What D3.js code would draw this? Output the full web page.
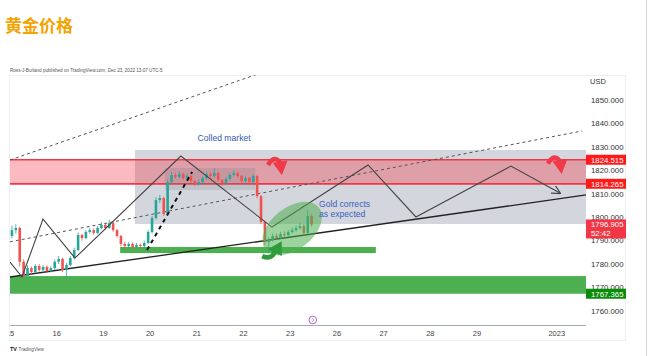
<!DOCTYPE html>
<html><head><meta charset="utf-8">
<script src="https://cdn.jsdelivr.net/npm/d3@7"></script>
<style>body{margin:0;background:#fff;overflow:hidden} svg{display:block}</style>
</head><body>
<svg id="c" width="649" height="356"></svg>
<script>
// ---------- DATA ----------
const firstOpen = 1792;
const closes = [
 1794.5,1795.4,1781,1775,1778.3,1776.6,1779.2,1777.5,1778.8,1777,
 1778.3,1781,1782.2,1777.5,1779.6,1782.6,1786,1792.4,1791.1,1793.7,
 1794.5,1793.3,1795.4,1796.7,1795.4,1797.5,1794.5,1792,1788.6,1787.7,
 1788.6,1787.3,1788.1,1787.7,1789,1793.7,1799.7,1807.3,1808.2,1801.4,
 1815,1818,1817.2,1818.4,1816.7,1817.6,1815.4,1814.2,1815,1816.7,
 1818.4,1817.6,1818.9,1815.9,1814.6,1816.3,1818,1818.9,1817.6,1815.4,
 1816.7,1815,1817.6,1809,1798,1789.4,1790.3,1792,1791.2,1792.8,
 1792.4,1793.7,1794.5,1795.4,1796.2,1793.3,1800.5,1796.9];
const highs = [
 1796.5,1797,1796,1782,1779.5,1779,1780,1780,1779.5,1779.5,
 1779,1782,1783.5,1782.8,1780.5,1783.5,1787,1793.5,1793,1794.5,
 1795.5,1795.2,1796.3,1797.8,1797.2,1799,1798,1795,1792.5,1789.5,
 1789.4,1789.3,1789,1788.8,1790,1794.5,1800.5,1808.5,1809.5,1808.8,
 1816,1819.5,1819,1819.6,1819.2,1818.6,1818.2,1816,1816.2,1817.5,
 1819.5,1819.2,1821,1819.5,1816.5,1817.2,1819,1820,1819.5,1818,
 1817.5,1817.3,1818.5,1818.3,1809.5,1798.5,1791.5,1793,1793,1793.8,
 1794,1794.6,1795.6,1796.5,1797.8,1797,1803,1801.5];
const lows = [
 1791,1793,1779,1774,1774.5,1775.5,1776,1776.8,1776.5,1776.3,
 1776.5,1777.5,1780,1776.5,1774,1779,1782,1785.5,1790,1790.5,
 1793,1792.5,1792.8,1794.8,1794.6,1795,1793.8,1791.3,1787.5,1786.5,
 1786.8,1786.5,1786.7,1786.6,1786.5,1788.5,1793,1799,1806,1800.5,
 1801,1814.5,1816.5,1816.5,1816,1815.8,1814.6,1813.2,1813.5,1814.3,
 1816,1816.8,1817,1815,1813.5,1814,1815.6,1817.3,1816.8,1814.5,
 1814.7,1814.2,1814.5,1808,1797,1788,1784.5,1789.5,1790.3,1790.8,
 1791.6,1791.8,1793,1793.8,1794.7,1792.5,1793,1796];

const dayTickIdx    = [0,12,24,36,48,60,72,84,96,108,120,140.5];
const dayTickLabels = ["15","16","19","20","21","22","23","26","27","28","29","2023"];
const priceTicks = [1760,1770,1780,1790,1800,1810,1820,1830,1840,1850];

// zones: [idxStart, idxEnd, priceLow, priceHigh]
const resistanceZone = [0, 148, 1814.265, 1824.515];
const rangeZone      = [32.1, 148, 1797.1, 1828.7];
const consolidation  = [39.8, 63, 1811.6, 1821];
const supportSmall   = [28.3, 94, 1784.7, 1787.3];
const supportBig     = [0, 148, 1767.365, 1774.9];

// lines: [idx, price] pairs
const upperDashed = [[0,1824.4],[75,1867.6]];
const lowerDashed = [[0,1789.5],[147,1836.8]];
const trendLine   = [[0,1774.5],[148,1809.5]];
const zigzag = [[0,1780.9],[3.08,1774.5],[8.48,1799.2],[16.7,1782.6],[43.9,1826.1],
                [67.3,1795.8],[92.0,1822.3],[104.3,1800.1],[128.7,1821.8],[141.3,1810.3]];
const boldDashed = [[35.2,1786.0],[46.8,1819.3]];
const ellipseC = [72.5, 1795.2];

const badgePrices = [1824.515, 1814.265, 1796.905, 1767.365];
const badgeLabels = ["1824.515","1814.265","1796.905","1767.365"];
const badgeSub    = ["","","52:42",""];

// ---------- DRAW ----------
const svg = d3.select("#c");
const L=10, R=586, T=75, B=325;
const x = d3.scaleLinear().domain([0,148]).range([L,R]);
const y = d3.scaleLinear().domain([1760,1850]).range([311,100]);

svg.append("rect").attr("width",649).attr("height",356).attr("fill","#fff");
svg.append("line").attr("x1",646.5).attr("x2",646.5).attr("y1",0).attr("y2",356).attr("stroke","#d6d6d6");

// Title
svg.append("text").attr("x",5).attr("y",32).text("黄金价格")
  .attr("font-family","'Noto Sans CJK SC'").attr("font-weight","bold")
  .attr("font-size",17).attr("fill","#f5a300");
svg.append("text").attr("x",10).attr("y",72)
  .text("Ross-J-Burland published on TradingView.com, Dec 23, 2022 13:07 UTC-5")
  .attr("font-family","Liberation Sans, Arial").attr("font-size",4.6).attr("fill","#555");

// frame
svg.append("rect").attr("x",9.5).attr("y",75.5).attr("width",616).attr("height",265)
  .attr("fill","none").attr("stroke","#eceef2");

const defs = svg.append("defs");
defs.append("clipPath").attr("id","plot").append("rect")
  .attr("x",L).attr("y",T).attr("width",R-L).attr("height",B-T);
const g = svg.append("g").attr("clip-path","url(#plot)");

function zone(z, fill){
  return g.append("rect").attr("x",x(z[0])).attr("width",x(z[1])-x(z[0]))
    .attr("y",y(z[3])).attr("height",y(z[2])-y(z[3])).attr("fill",fill);
}
zone(rangeZone,"rgba(200,203,212,0.78)");
zone(resistanceZone,"rgba(242,54,69,0.34)");
[resistanceZone[2],resistanceZone[3]].forEach(p=>{
  g.append("line").attr("x1",x(resistanceZone[0])).attr("x2",x(resistanceZone[1]))
    .attr("y1",y(p)).attr("y2",y(p)).attr("stroke","#f23645").attr("stroke-width",1.7);
});
zone(consolidation,"rgba(120,123,134,0.22)");
zone(supportSmall,"#4caf50");
zone(supportBig,"#4caf50");

const line = d3.line().x(d=>x(d[0])).y(d=>y(d[1]));
g.append("path").attr("d",line(upperDashed)).attr("fill","none").attr("stroke","#555")
  .attr("stroke-width",1).attr("stroke-dasharray","3,3");
g.append("path").attr("d",line(lowerDashed)).attr("fill","none").attr("stroke","#555")
  .attr("stroke-width",1).attr("stroke-dasharray","3,3");
g.append("path").attr("d",line(trendLine)).attr("fill","none").attr("stroke","#222")
  .attr("stroke-width",1.3);

// candles
const bw = 2.6;
closes.forEach((c,i)=>{
  const o = i===0 ? firstOpen : closes[i-1];
  const col = c>=o ? "#26a69a" : "#ef5350";
  const cx = x(i+0.5);
  g.append("line").attr("x1",cx).attr("x2",cx).attr("y1",y(highs[i])).attr("y2",y(lows[i]))
    .attr("stroke",col).attr("stroke-width",0.8);
  const top = y(Math.max(o,c)), h = Math.max(1, Math.abs(y(o)-y(c)));
  g.append("rect").attr("x",cx-bw/2).attr("width",bw).attr("y",top).attr("height",h).attr("fill",col);
});

g.append("path").attr("d",line(boldDashed)).attr("fill","none").attr("stroke","#111")
  .attr("stroke-width",2).attr("stroke-dasharray","4,4");

// zigzag with arrow
defs.append("marker").attr("id","ah").attr("viewBox","0 0 10 10").attr("refX",9).attr("refY",5)
  .attr("markerWidth",9).attr("markerHeight",9).attr("orient","auto").attr("markerUnits","userSpaceOnUse")
  .append("path").attr("d","M0,0 L10,5 L0,10").attr("fill","none").attr("stroke","#444").attr("stroke-width",1.3);
g.append("path").attr("d",line(zigzag)).attr("fill","none").attr("stroke","#444")
  .attr("stroke-width",1.1).attr("marker-end","url(#ah)");

// ellipse
const ex = x(ellipseC[0]), ey = y(ellipseC[1]);
g.append("ellipse").attr("cx",ex).attr("cy",ey).attr("rx",34).attr("ry",21)
  .attr("transform",`rotate(-38,${ex},${ey})`).attr("fill","rgba(76,175,80,0.55)");

// curved arrows
function redArrow(px,py){
  const a = g.append("g").attr("transform",`translate(${px},${py}) scale(1.15)`);
  a.append("path").attr("d","M0,8 Q6,-2 11,7").attr("fill","none").attr("stroke","#ef3a4a").attr("stroke-width",4);
  a.append("path").attr("d","M4,6 L17,4 L12,17 Z").attr("fill","#ef3a4a");
}
redArrow(x(66.3), y(1826.2));
redArrow(x(138.2), y(1826.8));
(function(){
  const a = g.append("g").attr("transform",`translate(${x(64.8)},${y(1789.8)}) scale(1.15)`);
  a.append("path").attr("d","M0,13 Q9,17 12,7").attr("fill","none").attr("stroke","#2e9c3a").attr("stroke-width",4);
  a.append("path").attr("d","M5,7 L17,0 L17,13 Z").attr("fill","#2e9c3a");
})();

// annotations
const tf = "Liberation Sans, Arial";
svg.append("text").attr("x",x(48.2)).attr("y",y(1832.7)).text("Colled market")
  .attr("font-family",tf).attr("font-size",8.6).attr("fill","#3559a8");
svg.append("text").attr("x",x(79.4)).attr("y",y(1804.5)).text("Gold corrects")
  .attr("font-family",tf).attr("font-size",8.6).attr("fill","#3a62c0");
svg.append("text").attr("x",x(79.4)).attr("y",y(1800.3)).text("as expected")
  .attr("font-family",tf).attr("font-size",8.6).attr("fill","#3a62c0");

// x axis
svg.append("line").attr("x1",L).attr("x2",R).attr("y1",B+0.5).attr("y2",B+0.5).attr("stroke","#a8abb3");
defs.append("clipPath").attr("id","xclip").append("rect").attr("x",L-1).attr("y",B).attr("width",R-L+2).attr("height",15);
const xa = svg.append("g").attr("clip-path","url(#xclip)");
dayTickIdx.forEach((d,i)=>{
  xa.append("text").attr("x",x(d)).attr("y",336).attr("text-anchor","middle").text(dayTickLabels[i])
    .attr("font-family",tf).attr("font-size",7.5).attr("fill","#444");
});

// purple icon
svg.append("circle").attr("cx",x(77.8)).attr("cy",320).attr("r",3.8).attr("fill","#fff")
  .attr("stroke","#b04fc8").attr("stroke-width",0.9);
svg.append("path").attr("d",`M${x(77.8)-1},318 L${x(77.8)+1},320 L${x(77.8)-1},322`).attr("fill","none")
  .attr("stroke","#b04fc8").attr("stroke-width",0.7);

// y axis
svg.append("text").attr("x",590).attr("y",84).text("USD").attr("font-family",tf).attr("font-size",7.5).attr("fill","#333");
priceTicks.forEach(p=>{
  svg.append("text").attr("x",591).attr("y",y(p)+2.8).text(d3.format(".3f")(p))
    .attr("font-family",tf).attr("font-size",7.8).attr("fill","#333");
});

// badges
const badgeFill = ["#ff1a1a","#ff1a1a","#f23645","#0a8c0a"];
badgePrices.forEach((p,i)=>{
  const two = badgeSub[i] !== "";
  const h = two ? 19 : 10;
  const top = y(p) - 5;
  svg.append("rect").attr("x",586).attr("y",top).attr("width",40).attr("height",h).attr("fill",badgeFill[i]);
  svg.append("text").attr("x",591).attr("y",top+7.8).text(badgeLabels[i])
    .attr("font-family",tf).attr("font-size",7.8).attr("fill","#fff");
  if(two) svg.append("text").attr("x",591).attr("y",top+16.5).text(badgeSub[i])
    .attr("font-family",tf).attr("font-size",7.8).attr("fill","#fff");
});

// TradingView logo
svg.append("text").attr("x",10).attr("y",351).text("TV").attr("font-family",tf).attr("font-weight","bold")
  .attr("font-size",5.5).attr("fill","#131722");
svg.append("text").attr("x",18.5).attr("y",351).text("TradingView").attr("font-family",tf)
  .attr("font-size",4.6).attr("fill","#555");
</script>
</body></html>
